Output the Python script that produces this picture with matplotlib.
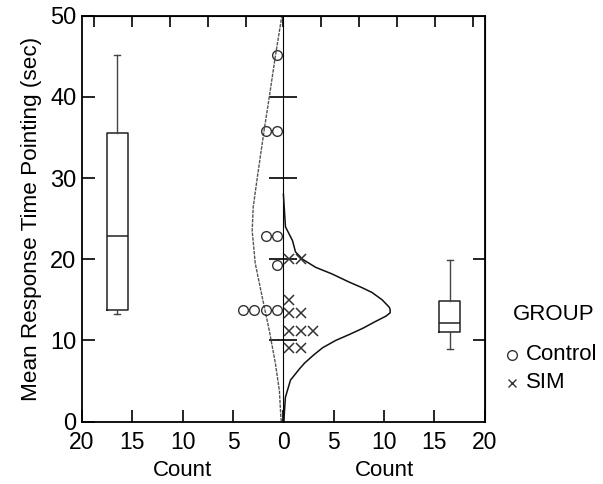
import matplotlib
matplotlib.use("Agg")
import matplotlib.pyplot as plt
from matplotlib.lines import Line2D
import numpy as np

plt.rcParams["font.family"] = ["Liberation Sans", "DejaVu Sans"]

# individual response times (sec)
control_times = [45.2, 35.8, 35.8, 22.9, 22.9, 19.3, 13.8, 13.8, 13.8, 13.8]
sim_times = [20.0, 20.0, 15.0, 13.4, 13.4, 11.2, 11.2, 11.2, 9.1, 9.1]

# density curves (time, count)
control_curve_y = [0.0, 0.5, 3.8, 7.2, 11.2, 15.3, 19.5, 23.5, 26.4, 30.0, 36.0, 40.0, 45.0, 50.0]
control_curve_x = [0.2, 0.25, 0.4, 0.8, 1.4, 2.1, 2.8, 3.1, 3.0, 2.6, 1.9, 1.4, 0.8, 0.15]
sim_curve_y = [0.0, 1.2, 3.0, 5.1, 6.5, 7.2, 8.2, 9.1, 10.0, 10.7, 11.5, 12.3, 13.0, 13.4,
               13.8, 14.1, 15.0, 15.9, 16.5, 17.2, 18.2, 19.0, 20.0, 20.9, 22.3, 24.0, 28.0]
sim_curve_x = [0.05, 0.1, 0.2, 0.7, 1.6, 2.1, 3.0, 3.9, 5.2, 6.5, 7.9, 9.1, 10.2, 10.6,
               10.6, 10.5, 9.8, 8.8, 7.8, 6.5, 4.8, 3.2, 1.9, 1.2, 0.9, 0.2, 0.0]

# box plot summaries (whisker low, q1, median, q3, whisker high)
control_box = [13.3, 13.8, 22.8, 35.6, 45.2]
sim_box = [9.0, 11.0, 12.1, 14.9, 19.9]

count_ticks = [-20, -15, -10, -5, 0, 5, 10, 15, 20]
time_ticks = [0, 10, 20, 30, 40, 50]
groups = ["Control", "SIM"]

fig = plt.figure(figsize=(6.03, 4.84), dpi=100)
ax = fig.add_axes([0.136, 0.129, 0.668, 0.8386])

ax.set_xlim(-20, 20)
ax.set_ylim(0, 50)

# curves
ax.plot([-v for v in control_curve_x], control_curve_y, color="#555555", lw=1.0,
        ls=(0, (2.5, 0.8)))
ax.plot(sim_curve_x, sim_curve_y, color="#111111", lw=1.1)

# stacked dots
def stack(values, side):
    xs, seen = [], {}
    for v in values:
        k = seen.get(v, 0)
        seen[v] = k + 1
        xs.append(side * (0.6 + 1.15 * k))
    return xs

ax.plot(stack(control_times, -1), control_times, ls="none", marker="o", ms=7,
        mfc="none", mec="#333333", mew=1.0)
ax.plot(stack(sim_times, 1), sim_times, ls="none", marker="x", ms=6.5,
        mec="#333333", mew=1.1)

# box plots
def box_stats(v):
    return dict(whislo=v[0], q1=v[1], med=v[2], q3=v[3], whishi=v[4], fliers=[])

ax.bxp([box_stats(control_box), box_stats(sim_box)], positions=[-16.5, 16.5],
       widths=2.1, showfliers=False,
       boxprops=dict(color="#222222", lw=1.1),
       medianprops=dict(color="#222222", lw=1.1),
       whiskerprops=dict(color="#444444", lw=1.0),
       capprops=dict(color="#444444", lw=1.0), capwidths=0.6, manage_ticks=False)

# axes styling
for s in ax.spines.values():
    s.set_linewidth(1.3)
ax.set_xticks(count_ticks)
ax.set_xticklabels([str(abs(t)) for t in count_ticks])
ax.set_yticks(time_ticks)
ax.tick_params(direction="in", length=9, width=1.2, labelsize=17, pad=4)
ax.tick_params(axis="x", labelsize=16.5, pad=7)

top = ax.secondary_xaxis("top")
top.set_xticks(np.arange(-5, 6) * 3.76)
top.tick_params(direction="in", length=8, width=1.2, labeltop=False)

right = ax.secondary_yaxis("right")
right.set_yticks([10, 20])
right.tick_params(direction="in", length=9, width=1.2, labelright=False)

mid = ax.secondary_yaxis(0.5)
mid.set_yticks([10, 20, 30, 40])
mid.tick_params(direction="inout", length=20, width=1.2, labelleft=False,
                labelright=False)
mid.spines["left"].set_linewidth(1.4)

ax.set_ylabel("Mean Response Time Pointing (sec)", fontsize=16.2, labelpad=6)
ax.text(0.25, -0.12, "Count", transform=ax.transAxes, ha="center", va="center", fontsize=16)
ax.text(0.75, -0.12, "Count", transform=ax.transAxes, ha="center", va="center", fontsize=16)

# legend (GROUP)
fig.text(513 / 603, 1 - 315 / 484, "GROUP", fontsize=16, ha="left", va="center")
fig.add_artist(Line2D([512 / 603], [1 - 355 / 484], transform=fig.transFigure,
                      ls="none", marker="o", ms=7, mfc="none", mec="#333333"))
fig.add_artist(Line2D([512 / 603], [1 - 383 / 484], transform=fig.transFigure,
                      ls="none", marker="x", ms=6, mec="#333333"))
fig.text(526 / 603, 1 - 355 / 484, groups[0], fontsize=16, ha="left", va="center")
fig.text(526 / 603, 1 - 383 / 484, groups[1], fontsize=16, ha="left", va="center")

fig.savefig("out.png", dpi=100)
